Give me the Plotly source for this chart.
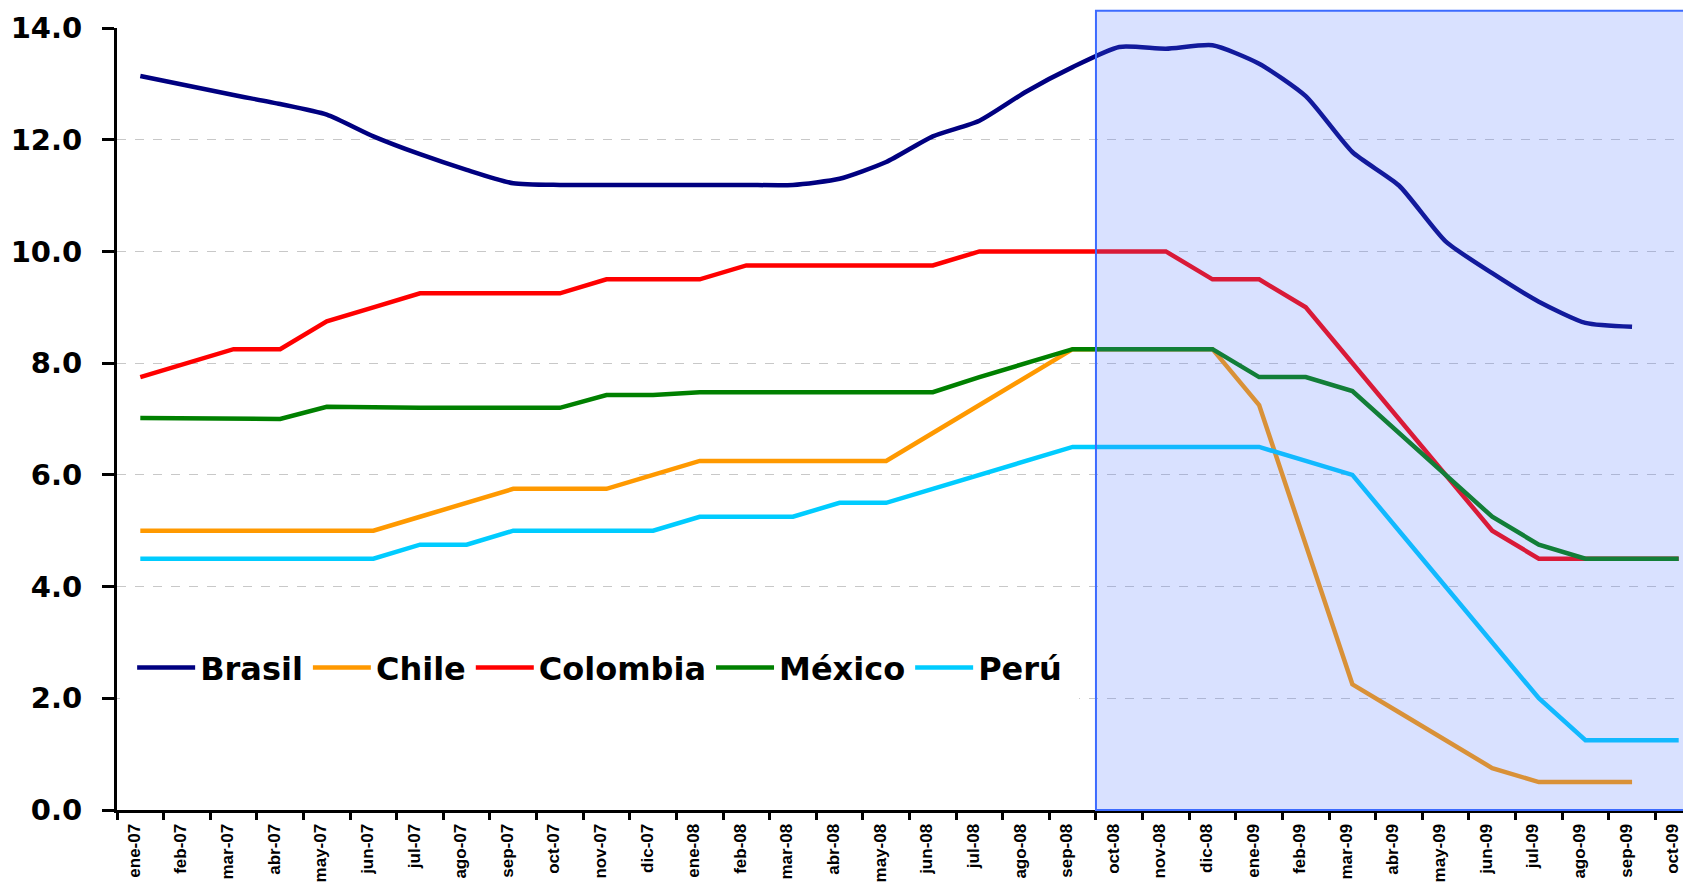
import plotly.graph_objects as go

months = ["ene-07", "feb-07", "mar-07", "abr-07", "may-07", "jun-07", "jul-07", "ago-07",
          "sep-07", "oct-07", "nov-07", "dic-07", "ene-08", "feb-08", "mar-08", "abr-08",
          "may-08", "jun-08", "jul-08", "ago-08", "sep-08", "oct-08", "nov-08", "dic-08",
          "ene-09", "feb-09", "mar-09", "abr-09", "may-09", "jun-09", "jul-09", "ago-09",
          "sep-09", "oct-09"]

brasil = [13.14, 12.97, 12.80, 12.64, 12.45, 12.06, 11.74, 11.46, 11.22, 11.19, 11.19, 11.19,
          11.19, 11.19, 11.19, 11.30, 11.60, 12.06, 12.34, 12.86, 13.30, 13.66, 13.63, 13.69,
          13.36, 12.78, 11.78, 11.18, 10.18, 9.61, 9.10, 8.72, 8.65]
chile = [5.0, 5.0, 5.0, 5.0, 5.0, 5.0, 5.25, 5.5, 5.75, 5.75, 5.75, 6.0,
         6.25, 6.25, 6.25, 6.25, 6.25, 6.75, 7.25, 7.75, 8.25, 8.25, 8.25, 8.25,
         7.25, 4.75, 2.25, 1.75, 1.25, 0.75, 0.5, 0.5, 0.5]
colombia = [7.75, 8.0, 8.25, 8.25, 8.75, 9.0, 9.25, 9.25, 9.25, 9.25, 9.5, 9.5,
            9.5, 9.75, 9.75, 9.75, 9.75, 9.75, 10.0, 10.0, 10.0, 10.0, 10.0, 9.5,
            9.5, 9.0, 8.0, 7.0, 6.0, 5.0, 4.5, 4.5, 4.5, 4.5]
mexico = [7.02, 7.02, 7.02, 7.0, 7.22, 7.2, 7.2, 7.2, 7.2, 7.2, 7.43, 7.43,
          7.48, 7.48, 7.48, 7.48, 7.48, 7.48, 7.75, 8.0, 8.25, 8.25, 8.25, 8.25,
          7.75, 7.75, 7.5, 6.75, 6.0, 5.25, 4.75, 4.5, 4.5, 4.5]
peru = [4.5, 4.5, 4.5, 4.5, 4.5, 4.5, 4.75, 4.75, 5.0, 5.0, 5.0, 5.0,
        5.25, 5.25, 5.25, 5.5, 5.5, 5.75, 6.0, 6.25, 6.5, 6.5, 6.5, 6.5,
        6.5, 6.25, 6.0, 5.0, 4.0, 3.0, 2.0, 1.25, 1.25, 1.25]

y_ticks = [0, 2, 4, 6, 8, 10, 12, 14]
shade_start = "oct-08"
shade_top = 14.31

series = [
    ("Brasil", brasil, "#000080", "spline"),
    ("Chile", chile, "#FF9900", "linear"),
    ("Colombia", colombia, "#FF0000", "linear"),
    ("México", mexico, "#008000", "linear"),
    ("Perú", peru, "#00CCFF", "linear"),
]

fig = go.Figure()
for name, vals, color, shape in series:
    fig.add_trace(go.Scatter(
        x=months[:len(vals)], y=vals, name=name, mode="lines",
        line=dict(color=color, width=4.5, shape=shape, smoothing=0.6),
    ))

# page body has an 8px default margin; size the figure to fit the 1691x893 window
W, H = 1683, 885
ml, mr, mt, mb = 109, 3, 20, 83
ymax = 14.0
n = len(months)
# the last category is partly cut off at the right edge, as in the original
x_range = [-0.5, n - 0.8]
x0_paper = (months.index(shade_start) - 0.5 - x_range[0]) / (x_range[1] - x_range[0])
y1_paper = shade_top / ymax

fig.add_shape(type="rect", xref="paper", yref="paper",
              x0=x0_paper, x1=1.0, y0=0, y1=y1_paper,
              fillcolor="rgba(80,120,255,0.22)",
              line=dict(color="#3D6BFF", width=2), layer="above")

fig.update_layout(
    width=W, height=H,
    margin=dict(l=ml, r=mr, t=mt, b=mb, pad=0),
    plot_bgcolor="white", paper_bgcolor="white",
    showlegend=True,
    legend=dict(
        orientation="h", x=0.002, xanchor="left", y=0.182, yanchor="middle",
        bgcolor="white", bordercolor="white", borderwidth=12,
        font=dict(family="DejaVu Sans", size=32, color="black", weight="bold"),
        itemwidth=58,
    ),
    xaxis=dict(
        type="category", categoryorder="array", categoryarray=months,
        range=x_range,
        tickmode="array", tickvals=months, ticktext=months,
        tickson="boundaries", ticks="outside", ticklen=7, tickwidth=3, tickcolor="black",
        showline=True, linecolor="black", linewidth=3, showgrid=False,
        tickangle=-90, ticklabelstandoff=4, ticklabelshift=-6,
        tickfont=dict(family="Liberation Sans, Arial", size=17, color="black", weight="bold"),
    ),
    yaxis=dict(
        range=[0, ymax], tickvals=y_ticks, tickformat=".1f",
        ticks="outside", ticklen=12, tickwidth=3, tickcolor="black",
        showline=True, linecolor="black", linewidth=3,
        showgrid=True, gridcolor="#C8C8C8", gridwidth=1, griddash="dash",
        zeroline=False, ticklabelstandoff=14,
        tickfont=dict(family="DejaVu Sans", size=29, color="black", weight="bold"),
    ),
)

fig.write_html("out.html")
